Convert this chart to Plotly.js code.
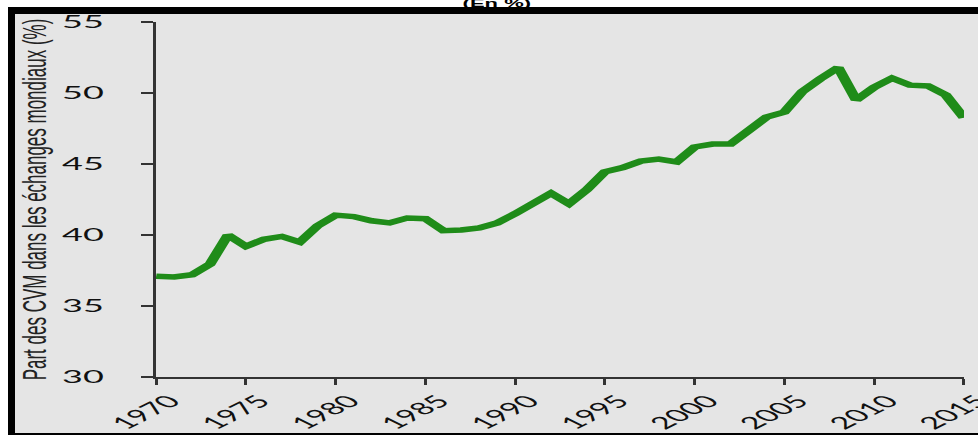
<!DOCTYPE html>
<html>
<head>
<meta charset="utf-8">
<script src="https://cdn.plot.ly/plotly-3.0.1.min.js"></script>
<style>
html,body{margin:0;padding:0;background:#fff;width:978px;height:436px;overflow:hidden;}
#frame{position:absolute;left:8px;top:7px;width:1000px;height:419px;border-left:7px solid #000;border-top:7px solid #000;border-bottom:2px solid #000;background:#e5e5e5;}
#wrap{position:absolute;left:0;top:0;width:489px;height:436px;transform:scaleX(2);transform-origin:0 0;}
#chart{width:489px;height:436px;}
</style>
</head>
<body>
<div id="frame"></div>
<div id="wrap"><div id="chart"></div></div>
<script>
const years = [1970,1971,1972,1973,1974,1975,1976,1977,1978,1979,
               1980,1981,1982,1983,1984,1985,1986,1987,1988,1989,
               1990,1991,1992,1993,1994,1995,1996,1997,1998,1999,
               2000,2001,2002,2003,2004,2005,2006,2007,2008,2009,
               2010,2011,2012,2013,2014,2015];
const shareGVC = [37.1,37.05,37.2,37.95,40.0,39.2,39.7,39.9,39.5,40.65,
                  41.4,41.3,41.0,40.85,41.2,41.15,40.3,40.35,40.5,40.85,
                  41.5,42.2,42.95,42.2,43.2,44.45,44.75,45.2,45.35,45.15,
                  46.2,46.4,46.4,47.35,48.3,48.65,50.1,51.0,51.8,49.5,
                  50.4,51.05,50.55,50.5,49.85,48.25];
const xTicks = [1970,1975,1980,1985,1990,1995,2000,2005,2010,2015];
const yTicks = [30,35,40,45,50,55];
const titleText = '(En %)';
const yTitleText = 'Part des CVM dans les échanges mondiaux (%)';

const trace = {
  x: years, y: shareGVC, type: 'scatter', mode: 'lines',
  line: {color: '#1f8c19', width: 5.5, shape: 'linear'},
  hoverinfo: 'skip'
};

const axisCommon = {
  showgrid: false, zeroline: false, showline: true,
  linecolor: '#333', linewidth: 1.5,
  ticks: 'outside', ticklen: 6, tickwidth: 1.5, tickcolor: '#333',
  tickfont: {family: 'Lato, sans-serif', size: 18, color: '#111'}
};

const layout = {
  width: 489, height: 436,
  margin: {l: 78, r: 7, t: 22, b: 59},
  paper_bgcolor: 'rgba(0,0,0,0)', plot_bgcolor: 'rgba(0,0,0,0)',
  showlegend: false,
  title: {text: '<b>' + titleText + '</b>', font: {family: 'Liberation Sans, Arial, sans-serif', size: 11, color: '#000'},
          xref: 'container', x: 0.508, xanchor: 'center', yref: 'container', y: 0.984, yanchor: 'bottom'},
  xaxis: Object.assign({}, axisCommon, {
    range: [1969.99, 2015.01], tickmode: 'array', tickvals: xTicks, ticktext: xTicks.map(String),
    tickangle: -45, automargin: false, ticklabelshift: 7, ticklabeloverflow: 'allow',
    tickfont: {family: 'Lato, sans-serif', size: 17, color: '#111'}
  }),
  yaxis: Object.assign({}, axisCommon, {
    range: [30, 55], tickmode: 'array', tickvals: yTicks, ticktext: yTicks.map(String),
    ticklabelstandoff: 15, automargin: false,
    title: {text: yTitleText, standoff: 3, font: {family: 'Liberation Sans Narrow, Liberation Sans, sans-serif', size: 17, color: '#222'}}
  })
};

Plotly.newPlot('chart', [trace], layout, {staticPlot: true, displayModeBar: false});
</script>
</body>
</html>
